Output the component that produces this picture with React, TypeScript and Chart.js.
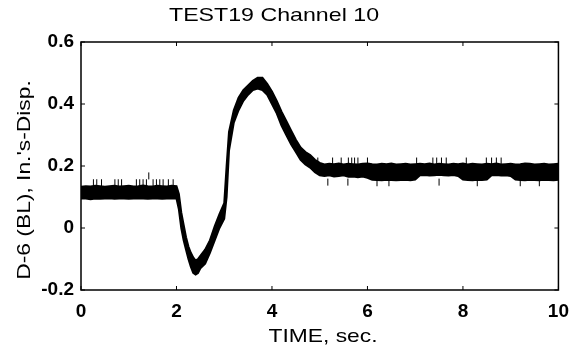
import React, { useEffect, useRef } from "react";
import { Chart, registerables } from "chart.js";

Chart.register(...registerables);

const TITLE = "TEST19 Channel 10";
const X_TITLE = "TIME, sec.";
const Y_TITLE = "D-6 (BL), In.'s-Disp.";

const X_TICKS = [0, 2, 4, 6, 8, 10];
const Y_TICKS = [-0.2, 0, 0.2, 0.4, 0.6];

// Baseline 0 .. 2.0 s
const BASE_T = [0, 0.1, 0.2, 0.3, 0.4, 0.5, 0.6, 0.7, 0.8, 0.9, 1.0, 1.1, 1.2, 1.3, 1.4, 1.5, 1.6, 1.7, 1.8, 1.9, 2.0];
const BASE_LO = [0.095, 0.095, 0.093, 0.095, 0.094, 0.095, 0.096, 0.094, 0.095, 0.095, 0.094, 0.095, 0.096, 0.095, 0.094, 0.095, 0.095, 0.094, 0.095, 0.096, 0.095];
const BASE_HI = [0.133, 0.135, 0.134, 0.136, 0.135, 0.133, 0.135, 0.136, 0.134, 0.135, 0.136, 0.134, 0.135, 0.137, 0.135, 0.134, 0.136, 0.135, 0.134, 0.136, 0.135];

// Pulse 2.05 .. 5.0 s
const PULSE_T = [2.05, 2.1, 2.15, 2.2, 2.25, 2.3, 2.35, 2.4, 2.45, 2.5, 2.6, 2.7, 2.8, 2.9, 3.0, 3.05, 3.1, 3.2, 3.3, 3.4, 3.5, 3.6, 3.7, 3.8, 3.9, 4.0, 4.1, 4.2, 4.3, 4.4, 4.5, 4.6, 4.7, 4.8, 4.9, 5.0];
const PULSE_LO = [0.06, 0.0, -0.04, -0.07, -0.1, -0.125, -0.145, -0.15, -0.145, -0.13, -0.115, -0.08, -0.04, 0.0, 0.03, 0.1, 0.25, 0.34, 0.38, 0.41, 0.43, 0.445, 0.45, 0.445, 0.43, 0.4, 0.37, 0.33, 0.3, 0.27, 0.245, 0.22, 0.205, 0.195, 0.18, 0.17];
const PULSE_HI = [0.11, 0.05, 0.01, -0.03, -0.06, -0.08, -0.095, -0.105, -0.1, -0.09, -0.07, -0.04, 0.005, 0.045, 0.08, 0.2, 0.31, 0.38, 0.42, 0.445, 0.46, 0.475, 0.485, 0.485, 0.465, 0.44, 0.41, 0.375, 0.345, 0.315, 0.285, 0.26, 0.245, 0.235, 0.22, 0.21];

// Plateau 5.1 .. 10.0 s
const PLAT_T = [5.1, 5.2, 5.3, 5.4, 5.5, 5.6, 5.7, 5.8, 5.9, 6.0, 6.1, 6.2, 6.3, 6.4, 6.5, 6.6, 6.7, 6.8, 6.9, 7.0, 7.1, 7.2, 7.3, 7.4, 7.5, 7.6, 7.7, 7.8, 7.9, 8.0, 8.1, 8.2, 8.3, 8.4, 8.5, 8.6, 8.7, 8.8, 8.9, 9.0, 9.1, 9.2, 9.3, 9.4, 9.5, 9.6, 9.7, 9.8, 9.9, 10.0];
const PLAT_LO = [0.168, 0.17, 0.166, 0.168, 0.17, 0.165, 0.166, 0.164, 0.166, 0.162, 0.156, 0.155, 0.154, 0.156, 0.155, 0.154, 0.155, 0.156, 0.154, 0.156, 0.17, 0.171, 0.169, 0.17, 0.172, 0.17, 0.169, 0.171, 0.168, 0.156, 0.155, 0.154, 0.156, 0.155, 0.156, 0.17, 0.171, 0.169, 0.17, 0.168, 0.156, 0.155, 0.154, 0.156, 0.155, 0.154, 0.156, 0.155, 0.154, 0.156];
const PLAT_HI = [0.205, 0.207, 0.206, 0.208, 0.205, 0.207, 0.206, 0.205, 0.207, 0.208, 0.206, 0.205, 0.207, 0.206, 0.208, 0.205, 0.206, 0.207, 0.205, 0.206, 0.207, 0.206, 0.208, 0.205, 0.207, 0.206, 0.205, 0.207, 0.206, 0.208, 0.205, 0.207, 0.206, 0.205, 0.207, 0.206, 0.208, 0.205, 0.206, 0.207, 0.205, 0.206, 0.208, 0.207, 0.205, 0.206, 0.207, 0.205, 0.206, 0.207];

// Noise spikes (centre values of short vertical ticks)
const SPIKE_T = [0.26, 0.33, 0.43, 0.71, 0.78, 0.85, 1.16, 1.23, 1.3, 1.37, 1.42, 1.51, 1.58, 1.65, 1.72, 1.83, 1.93, 4.96, 5.27, 5.45, 5.6, 5.67, 5.73, 5.8, 6.0, 7.03, 7.37, 7.45, 7.55, 7.65, 8.07, 8.49, 8.6, 8.7, 8.8, 5.17, 5.59, 6.2, 6.45, 7.5, 8.3, 9.2, 9.6];
const SPIKE_V = [0.146, 0.146, 0.146, 0.146, 0.146, 0.146, 0.146, 0.146, 0.146, 0.146, 0.168, 0.146, 0.146, 0.146, 0.146, 0.146, 0.146, 0.216, 0.216, 0.216, 0.216, 0.216, 0.216, 0.216, 0.216, 0.216, 0.216, 0.216, 0.216, 0.216, 0.216, 0.216, 0.216, 0.216, 0.216, 0.148, 0.148, 0.146, 0.146, 0.148, 0.146, 0.146, 0.146];

const TIMES = [...BASE_T, ...PULSE_T, ...PLAT_T];
const LOWER = [...BASE_LO, ...PULSE_LO, ...PLAT_LO];
const UPPER = [...BASE_HI, ...PULSE_HI, ...PLAT_HI];

const FONT = "'Liberation Sans', Arial, Helvetica, sans-serif";

function drawStretched(ctx: CanvasRenderingContext2D, text: string, sx: number) {
  ctx.save();
  ctx.scale(sx, 1);
  ctx.textAlign = "center";
  ctx.textBaseline = "alphabetic";
  ctx.fillText(text, 0, 0);
  ctx.restore();
}

const framePlugin = {
  id: "frameAndTitles",
  afterDraw(chart: any) {
    const { ctx, chartArea } = chart;
    const { left, right, top, bottom } = chartArea;
    const xs = chart.scales.x;
    const ys = chart.scales.y;
    ctx.save();
    ctx.strokeStyle = "#000";
    ctx.lineWidth = 1.5;
    ctx.strokeRect(left, top, right - left, bottom - top);
    ctx.lineWidth = 1;
    const tl = 4;
    ctx.beginPath();
    X_TICKS.forEach((v) => {
      const px = xs.getPixelForValue(v);
      ctx.moveTo(px, bottom);
      ctx.lineTo(px, bottom - tl);
      ctx.moveTo(px, top);
      ctx.lineTo(px, top + tl);
    });
    Y_TICKS.forEach((v) => {
      const py = ys.getPixelForValue(v);
      ctx.moveTo(left, py);
      ctx.lineTo(left + tl, py);
      ctx.moveTo(right, py);
      ctx.lineTo(right - tl, py);
    });
    ctx.stroke();

    ctx.fillStyle = "#000";
    ctx.font = `19px ${FONT}`;
    // title
    ctx.save();
    ctx.translate(274, 21);
    drawStretched(ctx, TITLE, 1.22);
    ctx.restore();
    // x title
    ctx.save();
    ctx.translate(323, 342);
    drawStretched(ctx, X_TITLE, 1.2);
    ctx.restore();
    // y title
    ctx.save();
    ctx.translate(30, 180);
    ctx.rotate(-Math.PI / 2);
    drawStretched(ctx, Y_TITLE, 1.2);
    ctx.restore();
    ctx.restore();
  },
};

export default function App() {
  const ref = useRef<HTMLCanvasElement | null>(null);

  useEffect(() => {
    document.body.style.margin = "0";
    const canvas = ref.current;
    if (!canvas) return;
    const lower = TIMES.map((t, i) => ({ x: t, y: LOWER[i] }));
    const upper = TIMES.map((t, i) => ({ x: t, y: UPPER[i] }));
    const spikes = SPIKE_T.map((t, i) => ({ x: t, y: SPIKE_V[i] }));

    const chart = new Chart(canvas, {
      type: "line",
      data: {
        datasets: [
          {
            data: lower,
            borderColor: "#000",
            borderWidth: 2,
            pointRadius: 0,
            fill: false,
            tension: 0,
          },
          {
            data: upper,
            borderColor: "#000",
            borderWidth: 2,
            pointRadius: 0,
            fill: "-1",
            backgroundColor: "#000",
            tension: 0,
          },
          {
            type: "scatter",
            data: spikes,
            showLine: false,
            pointStyle: "line",
            rotation: 90,
            pointRadius: 3.5,
            borderColor: "#000",
            borderWidth: 1,
            backgroundColor: "#000",
          } as any,
        ],
      },
      options: {
        animation: false,
        responsive: false,
        maintainAspectRatio: false,
        layout: { padding: { top: 42, right: 20, bottom: 0, left: 0 } },
        plugins: {
          legend: { display: false },
          title: { display: false },
          tooltip: { enabled: false },
        },
        scales: {
          x: {
            type: "linear",
            min: 0,
            max: 10,
            afterFit: (s: any) => {
              s.height = 64;
            },
            afterBuildTicks: (s: any) => {
              s.ticks = X_TICKS.map((v) => ({ value: v }));
            },
            ticks: {
              color: "#000",
              padding: 10,
              maxRotation: 0,
              font: { family: FONT, size: 19, weight: "bold" },
              callback: (v: any) => String(v),
            },
            grid: { display: false, drawTicks: false },
            border: { display: false },
          },
          y: {
            type: "linear",
            min: -0.2,
            max: 0.6,
            afterFit: (s: any) => {
              s.width = 81;
            },
            afterBuildTicks: (s: any) => {
              s.ticks = Y_TICKS.map((v) => ({ value: v }));
            },
            ticks: {
              color: "#000",
              padding: 7,
              font: { family: FONT, size: 19, weight: "bold" },
              callback: (v: any) => String(Number(Number(v).toFixed(1))),
            },
            grid: { display: false, drawTicks: false },
            border: { display: false },
          },
        },
      },
      plugins: [framePlugin],
    });
    return () => chart.destroy();
  }, []);

  return (
    <div style={{ position: "absolute", left: 0, top: 0, width: 579, height: 354, background: "#fff" }}>
      <canvas ref={ref} width={579} height={354} />
    </div>
  );
}
